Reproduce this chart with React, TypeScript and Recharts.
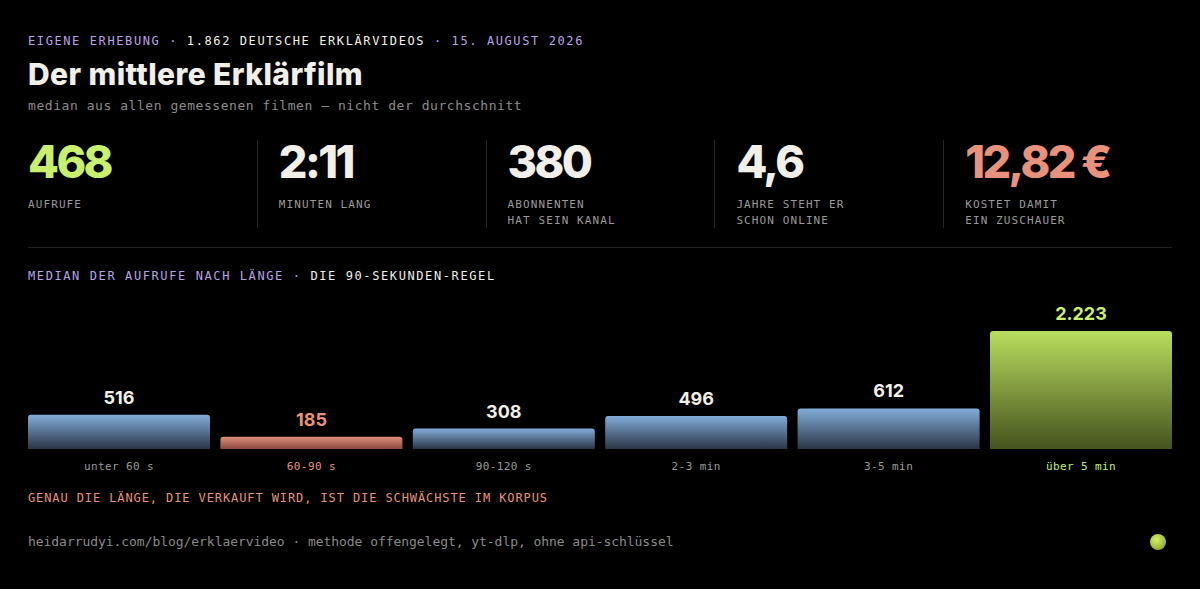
import { BarChart, Bar, XAxis, YAxis, Cell, LabelList } from "recharts";

const categories = ["unter 60 s", "60-90 s", "90-120 s", "2-3 min", "3-5 min", "über 5 min"];
const medianViews = [516, 185, 308, 496, 612, 2223];
// bars above this value are drawn at full height (the tall one is capped)
const CAP = 1780;

const kpiValues = ["468", "2:11", "380", "4,6", "12,82 €"];
const kpiLabels = [
  ["AUFRUFE"],
  ["MINUTEN LANG"],
  ["ABONNENTEN", "HAT SEIN KANAL"],
  ["JAHRE STEHT ER", "SCHON ONLINE"],
  ["KOSTET DAMIT", "EIN ZUSCHAUER"],
];

const LIME = "#c8f06c";
const SALMON = "#e8917b";
const PURPLE = "#b9a3e8";
const WHITE = "#f1efe8";
const GREY = "#9a9a9a";
const MONO = "'DejaVu Sans Mono', monospace";
const SANS = "Inter, 'Noto Sans', sans-serif";

const kpiColors = [LIME, WHITE, WHITE, WHITE, SALMON];
const highlight: Record<number, string> = { 1: SALMON, 5: LIME };
const barFills: Record<number, string> = { 1: "url(#gSalmon)", 5: "url(#gLime)" };

const data = categories.map((name, i) => ({
  name,
  value: medianViews[i],
  shown: Math.min(medianViews[i], CAP),
}));

const fmt = (v: number) => v.toLocaleString("de-DE");

const AxisTick = (props: any) => {
  const { x, y, payload, index } = props;
  return (
    <text
      x={x}
      y={y + 21}
      textAnchor="middle"
      fill={highlight[index] ?? GREY}
      style={{ fontFamily: MONO, fontSize: 11, letterSpacing: 0.4 }}
    >
      {payload.value}
    </text>
  );
};

const ValueLabel = (props: any) => {
  const { x, y, width, value, index } = props;
  return (
    <text
      x={x + width / 2}
      y={y - 11}
      textAnchor="middle"
      fill={highlight[index] ?? WHITE}
      style={{ fontFamily: SANS, fontSize: 18, fontWeight: 700 }}
    >
      {fmt(value)}
    </text>
  );
};

const abs = (top: number, extra: React.CSSProperties = {}): React.CSSProperties => ({
  position: "absolute",
  left: 28,
  top,
  whiteSpace: "nowrap",
  ...extra,
});

export default function App() {
  return (
    <div
      style={{
        position: "fixed",
        left: 0,
        top: 0,
        width: 1200,
        height: 589,
        background: "#000",
        overflow: "hidden",
      }}
    >
      <div style={abs(33, { fontFamily: MONO, fontSize: 12, lineHeight: "16px", letterSpacing: 1.6, color: PURPLE })}>
        EIGENE ERHEBUNG · <span style={{ color: WHITE }}>1.862 DEUTSCHE ERKLÄRVIDEOS</span> · 15. AUGUST 2026
      </div>
      <div style={abs(57, { fontFamily: SANS, fontSize: 30, fontWeight: 800, lineHeight: "34px", letterSpacing: 0.4, color: WHITE })}>
        Der mittlere Erklärfilm
      </div>
      <div style={abs(98, { fontFamily: MONO, fontSize: 13, lineHeight: "16px", letterSpacing: 0.55, color: "#8c8c8c" })}>
        median aus allen gemessenen filmen — nicht der durchschnitt
      </div>

      {kpiValues.map((v, i) => (
        <div key={v} style={{ position: "absolute", left: 28 + i * 228.8 + (i > 0 ? 22 : 0), top: 139 }}>
          {i > 0 && (
            <div style={{ position: "absolute", left: -22, top: 1, width: 1, height: 88, background: "#262626" }} />
          )}
          <div style={{ fontFamily: SANS, fontSize: 45, fontWeight: 800, lineHeight: "45px", letterSpacing: -2.6, color: kpiColors[i], whiteSpace: "nowrap" }}>
            {v}
          </div>
          <div style={{ marginTop: 13, fontFamily: MONO, fontSize: 11, lineHeight: "16px", letterSpacing: 1.1, color: GREY, whiteSpace: "nowrap" }}>
            {kpiLabels[i].map((l) => (
              <div key={l}>{l}</div>
            ))}
          </div>
        </div>
      ))}

      <div style={{ position: "absolute", left: 28, top: 247, width: 1144, height: 1, background: "#222" }} />

      <div style={abs(268, { fontFamily: MONO, fontSize: 12, lineHeight: "16px", letterSpacing: 1.6, color: PURPLE })}>
        MEDIAN DER AUFRUFE NACH LÄNGE · <span style={{ color: WHITE }}>DIE 90-SEKUNDEN-REGEL</span>
      </div>

      <div style={{ position: "absolute", left: 0, top: 290 }}>
        <BarChart
          width={1200}
          height={200}
          data={data}
          margin={{ top: 41, right: 22.8, left: 22.8, bottom: 0 }}
          barCategoryGap={5.2}
        >
          <defs>
            <linearGradient id="gBlue" x1="0" y1="0" x2="0" y2="1">
              <stop offset="0%" stopColor="#82acd8" />
              <stop offset="100%" stopColor="#2b3545" />
            </linearGradient>
            <linearGradient id="gSalmon" x1="0" y1="0" x2="0" y2="1">
              <stop offset="0%" stopColor="#dc8e7c" />
              <stop offset="100%" stopColor="#8c4a3e" />
            </linearGradient>
            <linearGradient id="gLime" x1="0" y1="0" x2="0" y2="1">
              <stop offset="0%" stopColor="#b9dd5e" />
              <stop offset="100%" stopColor="#45531f" />
            </linearGradient>
          </defs>
          <XAxis
            dataKey="name"
            height={41}
            axisLine={false}
            tickLine={false}
            tickSize={0}
            tickMargin={0}
            interval={0}
            tick={<AxisTick />}
          />
          <YAxis hide domain={[0, CAP]} />
          <Bar dataKey="shown" radius={[3, 3, 0, 0]} isAnimationActive={false}>
            {data.map((d, i) => (
              <Cell key={d.name} fill={barFills[i] ?? "url(#gBlue)"} />
            ))}
            <LabelList dataKey="value" content={<ValueLabel />} />
          </Bar>
        </BarChart>
      </div>

      <div style={abs(490, { fontFamily: MONO, fontSize: 12, lineHeight: "16px", letterSpacing: 0.9, color: SALMON })}>
        GENAU DIE LÄNGE, DIE VERKAUFT WIRD, IST DIE SCHWÄCHSTE IM KORPUS
      </div>

      <div style={abs(534, { fontFamily: MONO, fontSize: 13, lineHeight: "16px", letterSpacing: -0.05, color: "#8a8a8a" })}>
        heidarrudyi.com/blog/erklaervideo · methode offengelegt, yt-dlp, ohne api-schlüssel
      </div>

      <div
        style={{
          position: "absolute",
          left: 1150,
          top: 534,
          width: 16,
          height: 16,
          borderRadius: "50%",
          background: "radial-gradient(circle at 40% 35%, #d4f06a, #9ab22e 70%, #5c6a1a)",
        }}
      />
    </div>
  );
}
